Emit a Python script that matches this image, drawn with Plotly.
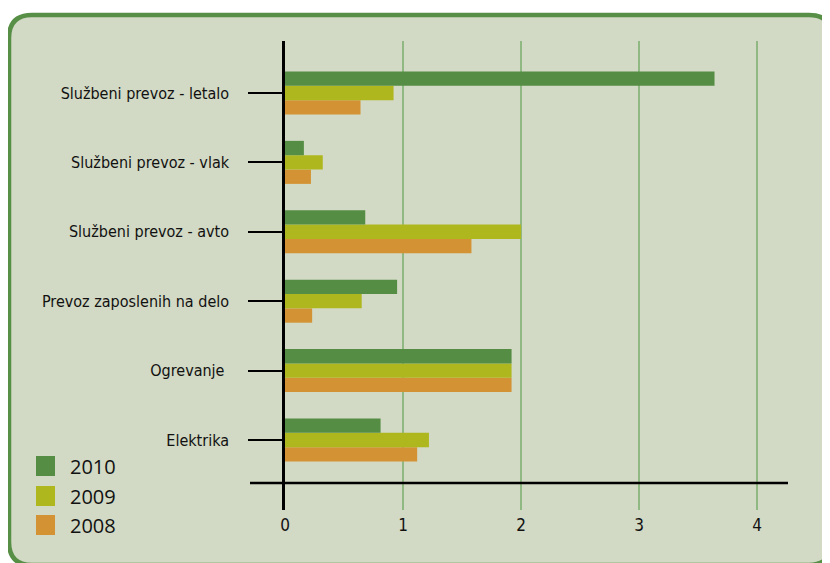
import plotly.graph_objects as go

categories = [
    "Službeni prevoz - letalo",
    "Službeni prevoz - vlak",
    "Službeni prevoz - avto",
    "Prevoz zaposlenih na delo",
    "Ogrevanje\u00a0",
    "Elektrika",
]
series_names = ["2010", "2009", "2008"]
values_2010 = [3.64, 0.16, 0.68, 0.95, 1.92, 0.81]
values_2009 = [0.92, 0.32, 2.00, 0.65, 1.92, 1.22]
values_2008 = [0.64, 0.22, 1.58, 0.23, 1.92, 1.12]
x_ticks = [0, 1, 2, 3, 4]

colors = {"2010": "#558d45", "2009": "#afb71f", "2008": "#d39335"}
series = {"2010": values_2010, "2009": values_2009, "2008": values_2008}

# page body has an 8px default margin: shrink the figure and shift by it
OFF = 8
W, H = 830 - OFF, 563 - OFF
# plot area in reference-page pixels
L, R, T, B = 285, 788, 41, 510
PW, PH = R - L, B - T


def px(x):
    return (x - L) / PW


def py(y):
    return (B - y) / PH


LABEL_FONT = "Liberation Sans Narrow, DejaVu Sans Condensed, Arial Narrow, sans-serif"

fig = go.Figure()
for name in ["2008", "2009", "2010"]:
    fig.add_trace(go.Bar(
        y=categories, x=series[name], orientation="h", name=name,
        marker=dict(color=colors[name], line=dict(width=0)),
        showlegend=False,
    ))

# rounded panel
x0, x1 = px(9), px(832)
yt, yb = py(15), py(565)
rx, ry = 23 / PW, 23 / PH
path = (f"M {x0+rx},{yt} L {x1-rx},{yt} Q {x1},{yt} {x1},{yt-ry} "
        f"L {x1},{yb+ry} Q {x1},{yb} {x1-rx},{yb} "
        f"L {x0+rx},{yb} Q {x0},{yb} {x0},{yb+ry} "
        f"L {x0},{yt-ry} Q {x0},{yt} {x0+rx},{yt} Z")
shapes = [dict(type="path", xref="paper", yref="paper", path=path,
               fillcolor="#d2d9c4", line=dict(color="#568f45", width=4.5),
               layer="below")]
# horizontal baseline
shapes.append(dict(type="line", xref="paper", yref="paper",
                   x0=px(250), x1=1.0, y0=py(483), y1=py(483),
                   line=dict(color="black", width=2.5), layer="above"))

annotations = []
leg_y = [466, 496, 525]
for name, yc in zip(series_names, leg_y):
    shapes.append(dict(type="rect", xref="paper", yref="paper",
                       x0=px(36), x1=px(55), y0=py(yc - 10), y1=py(yc + 10),
                       fillcolor=colors[name], line=dict(width=0), layer="above"))
    annotations.append(dict(xref="paper", yref="paper", x=px(68), y=py(yc),
                            xanchor="left", yanchor="middle", text=name,
                            showarrow=False,
                            font=dict(family="Open Sans, sans-serif", size=20, color="#111")))

fig.update_layout(
    width=W, height=H,
    margin=dict(l=L - OFF, r=W - (R - OFF), t=T - OFF, b=H - (B - OFF), pad=0),
    paper_bgcolor="white",
    plot_bgcolor="rgba(0,0,0,0)",
    barmode="group", bargap=0.38, bargroupgap=0,
    shapes=shapes, annotations=annotations,
    showlegend=False,
    xaxis=dict(range=[0, PW / 118.0], tickvals=x_ticks, ticktext=[str(v) for v in x_ticks],
               showgrid=True, gridcolor="#8fb882", gridwidth=1.5,
               zeroline=False, showline=False, ticks="",
               tickfont=dict(family=LABEL_FONT, size=17, color="#111"),
               ticklabelstandoff=3, fixedrange=True),
    yaxis=dict(type="category", categoryorder="array", categoryarray=categories[::-1],
               range=[-1.009, 5.749], showgrid=False, zeroline=False,
               showline=True, linecolor="black", linewidth=2.5,
               ticks="outside", ticklen=34, tickwidth=2, tickcolor="black",
               tickfont=dict(family=LABEL_FONT, size=16, color="#111"),
               ticklabelstandoff=16, fixedrange=True),
)

fig.write_html("out.html")
